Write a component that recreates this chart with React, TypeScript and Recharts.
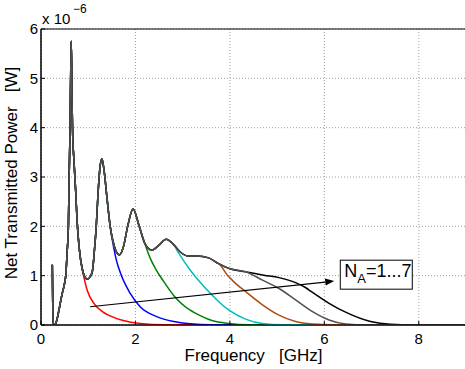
import React from 'react';
import { LineChart, Line, XAxis, YAxis, CartesianGrid, ReferenceArea, ReferenceLine, ReferenceDot, Label } from 'recharts';

const FONT = '"Liberation Sans", Arial, Helvetica, sans-serif';

const xTicks = [0, 2, 4, 6, 8];
const yTicks = [0, 1, 2, 3, 4, 5, 6];

// common part of all curves: [frequency GHz, power x1e-6 W]
const envelope: [number, number][] = [
    [0.24, 1.22], [0.25, 0.3], [0.265, 0.02], [0.29, 0.0], [0.33, 0.08], [0.38, 0.3], [0.44, 0.6],
    [0.5, 0.85], [0.524, 1.0], [0.555, 1.5], [0.58, 2.0], [0.596, 3.0], [0.616, 4.0], [0.628, 5.0], [0.64, 5.75],
    [0.652, 5.0], [0.667, 4.0], [0.7, 3.3], [0.735, 2.7], [0.765, 2.1], [0.81, 1.55], [0.87, 1.15],
    [0.93, 0.97], [0.98, 0.93], [1.03, 0.96], [1.09, 1.1], [1.13, 1.5], [1.17, 2.0], [1.21, 2.7], [1.25, 3.2],
    [1.29, 3.37], [1.34, 3.1], [1.4, 2.55], [1.465, 2.0], [1.55, 1.6], [1.66, 1.42], [1.75, 1.6],
    [1.835, 2.0], [1.95, 2.35], [2.08, 2.0], [2.2, 1.65], [2.35, 1.52], [2.5, 1.62], [2.65, 1.74],
    [2.8, 1.64], [2.95, 1.48], [3.1, 1.4], [3.3, 1.4], [3.55, 1.36], [3.75, 1.25], [4.0, 1.14],
    [4.33, 1.08], [4.72, 1.01], [5.04, 0.96], [5.39, 0.86],
];

// where each curve leaves the common envelope
const tail1: [number, number][] = [[0.93, 0.88], [0.98, 0.7], [1.12, 0.44], [1.3, 0.27], [1.45, 0.19], [1.74, 0.09], [2.1, 0.03], [2.6, 0.005], [9, 0]];
const tail2: [number, number][] = [[1.54, 1.57], [1.6, 1.3], [1.68, 1.06], [1.89, 0.64], [2.1, 0.37], [2.45, 0.17], [2.81, 0.07], [3.16, 0.025], [3.6, 0.005], [9, 0]];
const tail3: [number, number][] = [[2.31, 1.36], [2.42, 1.15], [2.6, 0.88], [2.81, 0.6], [3.16, 0.3], [3.27, 0.24], [3.62, 0.09], [3.98, 0.03], [4.4, 0.005], [9, 0]];
const tail4: [number, number][] = [[2.92, 1.45], [3.13, 1.15], [3.27, 0.98], [3.62, 0.61], [3.98, 0.3], [4.33, 0.12], [4.69, 0.03], [5.1, 0.005], [9, 0]];
const tail5: [number, number][] = [[3.77, 1.24], [3.94, 1.02], [4.08, 0.88], [4.33, 0.68], [4.69, 0.41], [5.04, 0.2], [5.39, 0.07], [5.75, 0.02], [6.2, 0.003], [9, 0]];
const tail6: [number, number][] = [[4.69, 0.91], [5.04, 0.74], [5.39, 0.51], [5.75, 0.27], [6.1, 0.1], [6.45, 0.02], [6.9, 0.002], [9, 0]];
const tail7: [number, number][] = [[5.6, 0.76], [5.75, 0.66], [6.1, 0.44], [6.45, 0.26], [6.98, 0.07], [7.4, 0.015], [7.9, 0.002], [9, 0]];

const names = ['N_A=1', 'N_A=2', 'N_A=3', 'N_A=4', 'N_A=5', 'N_A=7', 'N_A=6'];
const colors = ['#ff0000', '#0000ff', '#008000', '#00bfbf', '#b04a12', '#000000', '#505050'];
const tails = [tail1, tail2, tail3, tail4, tail5, tail7, tail6];

const arrowFrom = { x: 1.04, y: 0.37 };
const arrowTo = { x: 6.21, y: 0.89 };
const boxAt = { x: 7.1, y: 1.02 };

const buildSeries = (tail: [number, number][]) => {
    const start = tail[0][0];
    return [...envelope.filter(p => p[0] < start), ...tail].map(([f, p]) => ({ f, p }));
};

const ArrowShape = (props: any) => {
    const { x1, y1, x2, y2 } = props;
    const a = Math.atan2(y2 - y1, x2 - x1);
    const len = 9;
    const w = 3.5;
    const bx = x2 - len * Math.cos(a);
    const by = y2 - len * Math.sin(a);
    const px = -Math.sin(a) * w;
    const py = Math.cos(a) * w;
    return (
        <g>
            <line x1={x1} y1={y1} x2={bx} y2={by} stroke="#000" strokeWidth={1.2} />
            <polygon points={`${x2},${y2} ${bx + px},${by + py} ${bx - px},${by - py}`} fill="#000" />
        </g>
    );
};

const BoxShape = (props: any) => {
    const { cx, cy } = props;
    return (
        <g>
            <rect x={cx - 36} y={cy - 14.5} width={72} height={29} fill="#fff" stroke="#000" strokeWidth={1} />
            <text x={cx - 32} y={cy + 2} fontSize={18} fontFamily={FONT} fill="#000">
                N<tspan fontSize={13} dy={6.5}>A</tspan><tspan dy={-6.5}>=1...7</tspan>
            </text>
        </g>
    );
};

export default function App() {
    return (
        <div style={{ width: 465, height: 369, overflow: 'hidden', position: 'absolute', left: 0, top: 0, background: '#fff' }}>
            <LineChart width={466} height={369} margin={{ top: 29, right: 0, bottom: 0, left: 0 }} style={{ fontFamily: FONT }}>
                <CartesianGrid stroke="#a0a0a0" strokeDasharray="1 2" />
                <XAxis
                    dataKey="f"
                    type="number"
                    domain={[0, 9]}
                    ticks={xTicks}
                    allowDataOverflow
                    height={44}
                    tickSize={-4}
                    tickMargin={12}
                    tick={{ fill: '#000', fontSize: 15, fontFamily: FONT }}
                    axisLine={{ stroke: '#000' }}
                    tickLine={{ stroke: '#000' }}
                >
                    <Label
                        content={(p: any) => {
                            const vb = p.viewBox || { x: 41, y: 325, width: 425 };
                            return (
                                <text x={vb.x + vb.width / 2} y={361} textAnchor="middle" fontSize={17} fontFamily={FONT} fill="#000" style={{ whiteSpace: 'pre' }}>
                                    {'Frequency   [GHz]'}
                                </text>
                            );
                        }}
                    />
                </XAxis>
                <YAxis
                    type="number"
                    domain={[0, 6]}
                    ticks={yTicks}
                    allowDataOverflow
                    width={41}
                    tickSize={-4}
                    tickMargin={7}
                    tick={{ fill: '#000', fontSize: 15, fontFamily: FONT }}
                    axisLine={{ stroke: '#000' }}
                    tickLine={{ stroke: '#000' }}
                >
                    <Label
                        content={() => (
                            <g>
                                <text x={17} y={173} transform="rotate(-90 17 173)" textAnchor="middle" fontSize={17} fontFamily={FONT} fill="#000" style={{ whiteSpace: 'pre' }}>
                                    {'Net Transmitted Power   [W]'}
                                </text>
                                <text x={42} y={24} fontSize={15} fontFamily={FONT} fill="#000" style={{ whiteSpace: 'pre' }}>
                                    {'x 10'}
                                    <tspan x={73} y={13} fontSize={12}>{'\u22126'}</tspan>
                                </text>
                            </g>
                        )}
                    />
                </YAxis>
                <ReferenceArea x1={0} x2={9} y1={0} y2={6} fill="none" stroke="#000" strokeWidth={1} ifOverflow="visible" />
                {tails.map((t, i) => (
                    <Line
                        key={names[i]}
                        data={buildSeries(t)}
                        dataKey="p"
                        name={names[i]}
                        type="monotone"
                        stroke={colors[i]}
                        strokeWidth={1.5}
                        dot={false}
                        activeDot={false}
                        isAnimationActive={false}
                    />
                ))}
                <ReferenceLine segment={[arrowFrom, arrowTo]} shape={ArrowShape} />
                <ReferenceDot x={boxAt.x} y={boxAt.y} shape={BoxShape} />
            </LineChart>
        </div>
    );
}
